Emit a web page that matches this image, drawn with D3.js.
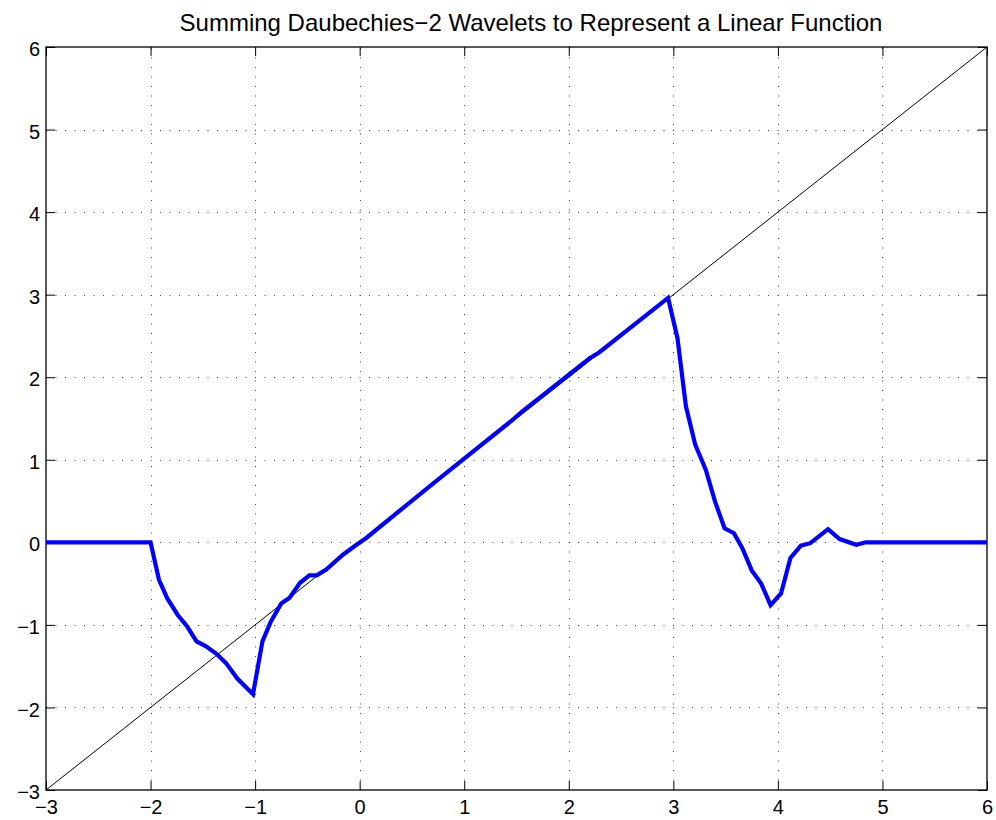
<!DOCTYPE html>
<html>
<head>
<meta charset="utf-8">
<script src="https://cdn.jsdelivr.net/npm/d3@7"></script>
<style>
  html, body { margin: 0; padding: 0; background: #fff; }
  svg { display: block; }
  text { font-family: "Liberation Sans", Arial, Helvetica, sans-serif; fill: #000; }
</style>
</head>
<body>
<svg id="chart" width="996" height="820"></svg>
<script>
// Chart text and tick values
const titleText = "Summing Daubechies\u22122 Wavelets to Represent a Linear Function";
const xTicks = [-3, -2, -1, 0, 1, 2, 3, 4, 5, 6];
const yTicks = [-3, -2, -1, 0, 1, 2, 3, 4, 5, 6];

// Target linear function y = x over the plotted range
const lineX = [-3, 6];
const lineY = [-3, 6];

// Sum of the Daubechies-2 wavelet terms (piecewise samples)
const waveX = [-3, -2, -1.92, -1.84, -1.74, -1.65, -1.56, -1.47, -1.37, -1.28, -1.17, -1.02,
  -0.93, -0.85, -0.75, -0.67, -0.57, -0.48, -0.41, -0.32, -0.16, -0.03, 0.06,
  0.69, 0.77, 1.45, 1.55, 2.20, 2.29, 2.95,
  3.04, 3.12, 3.21, 3.31, 3.40, 3.49, 3.58, 3.66, 3.75, 3.84, 3.93,
  4.03, 4.12, 4.22, 4.31, 4.48, 4.59, 4.75, 4.84, 6];
const waveY = [0, 0, -0.45, -0.68, -0.88, -1.02, -1.20, -1.26, -1.35, -1.46, -1.65, -1.84,
  -1.20, -0.96, -0.74, -0.67, -0.49, -0.40, -0.40, -0.33, -0.15, -0.03, 0.05,
  0.70, 0.78, 1.47, 1.58, 2.23, 2.30, 2.96,
  2.47, 1.65, 1.18, 0.88, 0.49, 0.17, 0.11, -0.07, -0.34, -0.50, -0.76,
  -0.62, -0.19, -0.04, -0.01, 0.16, 0.04, -0.03, 0, 0];

const margin = { left: 46, right: 9, top: 47, bottom: 30 };
const W = 996, H = 820;
const svg = d3.select("#chart");

const x = d3.scaleLinear().domain([-3, 6]).range([margin.left, W - margin.right]);
const y = d3.scaleLinear().domain([-3, 6]).range([H - margin.bottom, margin.top]);

const x0 = x.range()[0], x1 = x.range()[1];
const y0 = y.range()[1], y1 = y.range()[0];

// Dotted grid
const grid = svg.append("g").attr("stroke", "#000").attr("stroke-width", 1)
  .attr("stroke-dasharray", "1,8.5").attr("opacity", 0.7);
xTicks.slice(1, -1).forEach(t => {
  grid.append("line").attr("x1", Math.round(x(t)) + 0.5).attr("x2", Math.round(x(t)) + 0.5)
    .attr("y1", y1).attr("y2", y0);
});
yTicks.slice(1, -1).forEach(t => {
  grid.append("line").attr("y1", Math.round(y(t)) + 0.5).attr("y2", Math.round(y(t)) + 0.5)
    .attr("x1", x0).attr("x2", x1);
});

// Axes with inward ticks on all four sides
const tickLen = 9;
const fmt = d => d < 0 ? "\u2212" + Math.abs(d) : String(d);

const axBottom = svg.append("g").attr("transform", `translate(0,${y1})`)
  .call(d3.axisBottom(x).tickValues(xTicks).tickSize(-tickLen).tickPadding(10).tickFormat(fmt));
const axTop = svg.append("g").attr("transform", `translate(0,${y0})`)
  .call(d3.axisTop(x).tickValues(xTicks).tickSize(-tickLen).tickFormat(""));
const axLeft = svg.append("g").attr("transform", `translate(${x0},0)`)
  .call(d3.axisLeft(y).tickValues(yTicks).tickSize(-tickLen).tickPadding(6).tickFormat(fmt));
const axRight = svg.append("g").attr("transform", `translate(${x1},0)`)
  .call(d3.axisRight(y).tickValues(yTicks).tickSize(-tickLen).tickFormat(""));

[axBottom, axTop, axLeft, axRight].forEach(g => {
  g.select(".domain").remove();
  g.selectAll(".tick line").attr("stroke", "#000").attr("stroke-width", 1);
  g.selectAll("text").attr("font-size", 20).attr("fill", "#000")
    .style("font-family", '"Liberation Sans", Arial, sans-serif');
});
axLeft.selectAll("text").attr("dy", "0.43em");

// Axes box
svg.append("rect").attr("x", x0).attr("y", y0).attr("width", x1 - x0).attr("height", y1 - y0)
  .attr("fill", "none").attr("stroke", "#000").attr("stroke-width", 1.3);

// Linear function
const lin = lineX.map((v, i) => [v, lineY[i]]);
svg.append("path").datum(lin)
  .attr("d", d3.line().x(d => x(d[0])).y(d => y(d[1])))
  .attr("fill", "none").attr("stroke", "#000").attr("stroke-width", 1);

// Wavelet sum
const wave = waveX.map((v, i) => [v, waveY[i]]);
svg.append("path").datum(wave)
  .attr("d", d3.line().x(d => x(d[0])).y(d => y(d[1])))
  .attr("fill", "none").attr("stroke", "#0000ff").attr("stroke-width", 4.2)
  .attr("stroke-linejoin", "miter").attr("stroke-linecap", "butt");

// Title
svg.append("text").attr("x", 531).attr("y", 31)
  .attr("text-anchor", "middle").attr("font-size", 24).text(titleText);
</script>
</body>
</html>
